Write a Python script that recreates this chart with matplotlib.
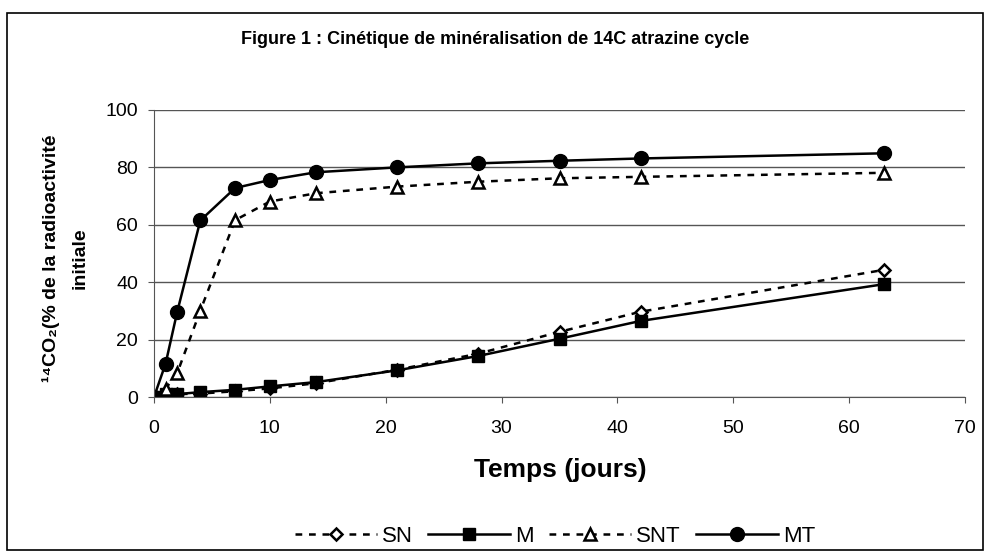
import matplotlib
matplotlib.use("Agg")
import matplotlib.pyplot as plt
from matplotlib.patches import Rectangle

plt.rcParams['font.family'] = ['Liberation Sans', 'DejaVu Sans']

jours = [0, 1, 2, 4, 7, 10, 14, 21, 28, 35, 42, 63]
sn = [0, 0.5, 1.0, 1.2, 2.0, 3.0, 4.8, 9.5, 15.1, 22.7, 29.7, 44.3]
m = [0, 1.0, 1.0, 1.7, 2.5, 3.7, 5.2, 9.3, 14.3, 20.3, 26.5, 39.3]
snt = [0, 2.9, 8.3, 30.1, 61.6, 68.1, 71.0, 73.3, 75.0, 76.2, 76.7, 78.1]
mt = [0, 11.6, 29.6, 61.5, 72.8, 75.6, 78.3, 80.0, 81.4, 82.3, 83.1, 84.9]

fig = plt.figure(figsize=(9.91, 5.59), dpi=100)
ax = fig.add_axes([0.1554, 0.2898, 0.8184, 0.5135])

dash = (0, (2.7, 2.7))
ax.plot(jours, sn, color='black', ls=dash, lw=1.8, marker='D', ms=6,
        mfc='white', mec='black', mew=1.8, label='SN')
ax.plot(jours, m, color='black', ls='-', lw=1.8, marker='s', ms=8.5,
        mfc='black', mec='black', label='M')
ax.plot(jours, snt, color='black', ls=dash, lw=1.8, marker='^', ms=8.5,
        mfc='white', mec='black', mew=1.8, label='SNT')
ax.plot(jours, mt, color='black', ls='-', lw=1.8, marker='o', ms=10,
        mfc='black', mec='black', label='MT')

ax.set_xlim(0, 70)
ax.set_ylim(0, 100)
ax.set_xticks(range(0, 71, 10))
ax.set_yticks(range(0, 101, 20))
ax.yaxis.grid(True, color='#555555', lw=1)
ax.set_axisbelow(True)
for s in ['top', 'right']:
    ax.spines[s].set_visible(False)
ax.spines['left'].set_color('#555555')
ax.spines['bottom'].set_color('#555555')
ax.tick_params(axis='both', direction='out', length=4.5, color='#555555',
               labelsize=14)
ax.tick_params(axis='x', pad=12)
ax.tick_params(axis='y', pad=7)

# axis titles centred on the plot area, like the original
fig.text(560 / 991, 1 - 470 / 559, 'Temps (jours)', ha='center', va='center',
         fontsize=19, fontweight='bold')
fig.text(65 / 991, 1 - 258 / 559,
         '¹⁴CO₂(% de la radioactivité\ninitiale',
         rotation=90, ha='center', va='center', multialignment='center',
         fontsize=14, fontweight='bold', linespacing=1.9)

fig.text(0.5, 1 - 40 / 559, 'Figure 1 : Cinétique de minéralisation de 14C atrazine cycle',
         ha='center', va='center', fontsize=13, fontweight='bold')

fig.legend(loc='center', bbox_to_anchor=(0.56, 0.041), ncol=4, frameon=False,
           fontsize=16, handlelength=3.7, columnspacing=0.7, handletextpad=0.2)

fig.patches.append(Rectangle((0.007, 0.016), 0.985, 0.96, transform=fig.transFigure,
                             fill=False, edgecolor='black', lw=1.2))

fig.savefig('out.png', dpi=100)
